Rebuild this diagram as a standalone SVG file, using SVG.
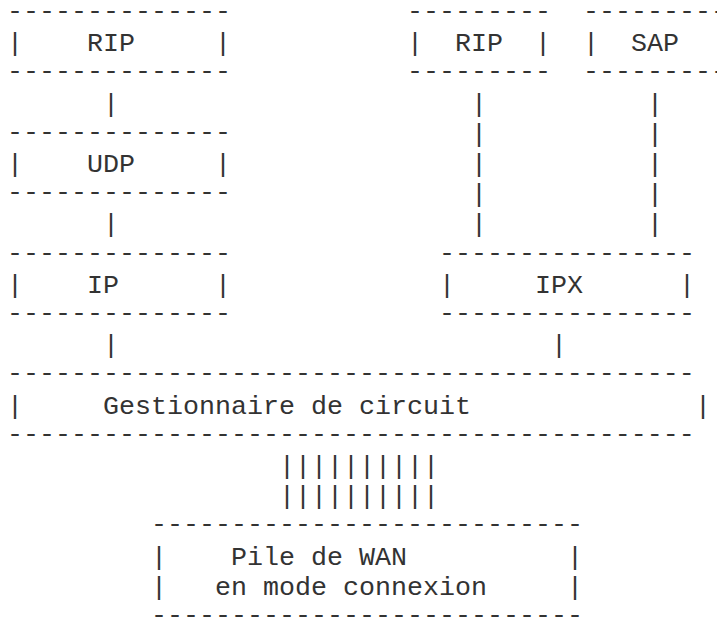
<svg xmlns="http://www.w3.org/2000/svg" width="717" height="617" viewBox="0 0 717 617">
<style>
text{font-family:"Liberation Mono","Courier New",monospace;font-size:26.667px;fill:#333;white-space:pre}
</style>
<rect width="717" height="617" fill="#fff"/>
<g id="node-rip-ip">
<text x="7" y="19">--------------</text>
<text x="7" y="51.2">|</text><text x="87" y="51.2">RIP</text><text x="215" y="51.2">|</text>
<text x="7" y="79.4">--------------</text>
</g>
<g id="node-udp">
<text x="7" y="139.8">--------------</text>
<text x="7" y="172">|</text><text x="87" y="172">UDP</text><text x="215" y="172">|</text>
<text x="7" y="200.2">--------------</text>
</g>
<g id="node-ip">
<text x="7" y="260.6">--------------</text>
<text x="7" y="292.8">|</text><text x="87" y="292.8">IP</text><text x="215" y="292.8">|</text>
<text x="7" y="321">--------------</text>
</g>
<g id="node-rip-ipx">
<text x="407" y="19">---------</text>
<text x="407" y="51.2">|</text><text x="455" y="51.2">RIP</text><text x="535" y="51.2">|</text>
<text x="407" y="79.4">---------</text>
</g>
<g id="node-sap">
<text x="583" y="19">---------</text>
<text x="583" y="51.2">|</text><text x="631" y="51.2">SAP</text>
<text x="583" y="79.4">---------</text>
</g>
<g id="node-ipx">
<text x="439" y="260.6">----------------</text>
<text x="439" y="292.8">|</text><text x="535" y="292.8">IPX</text><text x="679" y="292.8">|</text>
<text x="439" y="321">----------------</text>
</g>
<g id="node-gestionnaire">
<text x="7" y="381.4">-------------------------------------------</text>
<text x="7" y="413.6">|</text><text x="103" y="413.6">Gestionnaire de circuit</text><text x="695" y="413.6">|</text>
<text x="7" y="441.8">-------------------------------------------</text>
</g>
<g id="node-wan">
<text x="151" y="532.4">---------------------------</text>
<text x="151" y="564.6">|</text><text x="231" y="564.6">Pile de WAN</text><text x="567" y="564.6">|</text>
<text x="151" y="594.8">|</text><text x="215" y="594.8">en mode connexion</text><text x="567" y="594.8">|</text>
<text x="151" y="623">---------------------------</text>
</g>
<g id="connectors">
<text x="103" y="111.6">|</text>
<text x="103" y="232.4">|</text>
<text x="103" y="353.2">|</text>
<text x="471" y="111.6">|</text><text x="471" y="141.8">|</text><text x="471" y="172">|</text><text x="471" y="202.2">|</text><text x="471" y="232.4">|</text>
<text x="647" y="111.6">|</text><text x="647" y="141.8">|</text><text x="647" y="172">|</text><text x="647" y="202.2">|</text><text x="647" y="232.4">|</text>
<text x="551" y="353.2">|</text>
<text x="279" y="474">||||||||||</text>
<text x="279" y="504.2">||||||||||</text>
</g>
</svg>
